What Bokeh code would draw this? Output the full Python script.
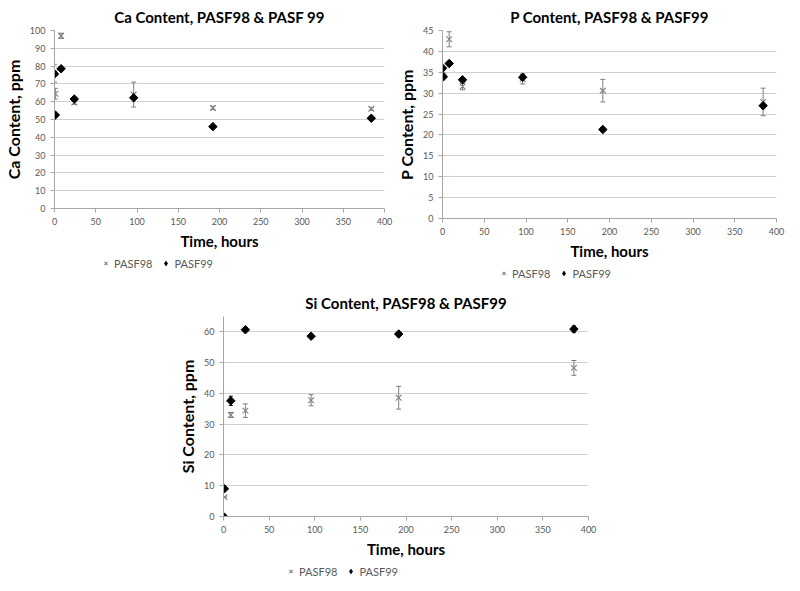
import math
from bokeh.plotting import figure
from bokeh.models import (ColumnDataSource, Whisker, TeeHead, Legend, LegendItem,
                          Range1d, SingleIntervalTicker, Spacer)
from bokeh.layouts import column, row
from bokeh.embed import file_html
from bokeh.resources import INLINE

# ---------------- data ----------------
ca_hours_98 = [0, 1, 8, 24, 96, 192, 384]
ca_98 = [76.0, 64.5, 97.0, 59.5, 64.0, 56.5, 56.0]
ca_98_err = [5.0, 3.0, 1.5, 1.0, 7.0, 1.0, 0.8]
ca_hours_99 = [0, 1, 8, 24, 96, 192, 384]
ca_99 = [75.6, 52.5, 78.5, 61.5, 62.2, 46.0, 50.7]
ca_99_err = [0.5, 0.5, 0.5, 0.8, 0.5, 0.5, 0.5]

p_hours_98 = [1, 8, 24, 96, 192, 384]
p_98 = [35.2, 42.9, 31.6, 33.4, 30.6, 27.9]
p_98_err = [1.0, 1.8, 0.8, 1.2, 2.7, 3.3]
p_hours_99 = [0, 1, 8, 24, 96, 192, 384]
p_99 = [36.0, 33.9, 37.1, 33.2, 33.8, 21.3, 27.0]
p_99_err = [0.4, 0.3, 0.3, 0.4, 0.6, 0.3, 0.6]

si_hours_98 = [0, 1, 8, 24, 96, 192, 384]
si_98 = [0.0, 6.3, 33.0, 34.4, 37.8, 38.6, 48.3]
si_98_err = [0.0, 0.0, 0.8, 2.2, 1.8, 3.7, 2.4]
si_hours_99 = [0, 1, 8, 24, 96, 192, 384]
si_99 = [0.0, 9.0, 37.6, 60.7, 58.6, 59.3, 60.9]
si_99_err = [0.3, 0.3, 1.5, 0.5, 0.5, 0.5, 1.0]

series_names = ["PASF98", "PASF99"]

GRAY = "#7f7f7f"
GRID = "#d0d0d0"
AX = "#a6a6a6"
TXT = "#595959"
FONT = "Lato"
DIAMOND_ANGLE = math.pi / 4
NAN = float("nan")


def make_chart(title, ylabel, ymax, ystep, h98, v98, e98, h99, v99, e99,
               fw, fh, b_left, b_right, b_top, b_bottom):
    p = figure(frame_width=fw, frame_height=fh, output_backend="svg",
               toolbar_location=None, x_range=Range1d(0, 400),
               y_range=Range1d(0, ymax),
               min_border_left=b_left, min_border_right=b_right,
               min_border_top=b_top, min_border_bottom=b_bottom)
    p.title.text = title
    p.title.align = "center"
    p.title.text_font = FONT
    p.title.text_font_style = "bold"
    p.title.text_font_size = "15px"
    p.title.text_color = "#000000"
    p.outline_line_color = None
    p.xgrid.grid_line_color = None
    p.ygrid.grid_line_color = GRID
    p.ygrid.grid_line_width = 1

    p.xaxis.ticker = SingleIntervalTicker(interval=50)
    p.yaxis.ticker = SingleIntervalTicker(interval=ystep)
    for ax in (p.xaxis[0], p.yaxis[0]):
        ax.axis_line_color = AX
        ax.major_tick_line_color = AX
        ax.major_tick_in = 0
        ax.major_tick_out = 4
        ax.minor_tick_line_color = None
        ax.major_label_text_font = FONT
        ax.major_label_text_font_size = "9px"
        ax.major_label_text_color = TXT
        ax.axis_label_text_font = FONT
        ax.axis_label_text_font_style = "bold"
        ax.axis_label_text_color = "#000000"
    p.xaxis.axis_label = "Time, hours"
    p.xaxis.axis_label_text_font_size = "15px"
    p.xaxis.axis_label_standoff = 4
    p.yaxis.axis_label = ylabel
    p.yaxis.axis_label_text_font_size = "16px"
    p.yaxis.axis_label_standoff = 4

    s98 = ColumnDataSource(dict(x=h98, y=v98,
                                lo=[a - b for a, b in zip(v98, e98)],
                                hi=[a + b for a, b in zip(v98, e98)]))
    s99 = ColumnDataSource(dict(x=h99, y=v99,
                                lo=[a - b for a, b in zip(v99, e99)],
                                hi=[a + b for a, b in zip(v99, e99)]))

    w98 = Whisker(base="x", upper="hi", lower="lo", source=s98,
                  line_color=GRAY, line_width=1,
                  upper_head=TeeHead(size=5, line_color=GRAY, line_width=1),
                  lower_head=TeeHead(size=5, line_color=GRAY, line_width=1))
    w99 = Whisker(base="x", upper="hi", lower="lo", source=s99,
                  line_color="#000000", line_width=1,
                  upper_head=TeeHead(size=4, line_color="#000000", line_width=1),
                  lower_head=TeeHead(size=4, line_color="#000000", line_width=1))
    p.add_layout(w98)
    p.add_layout(w99)

    p.scatter("x", "y", source=s98, marker="x", size=8,
              line_color=GRAY, line_width=1.1)
    p.scatter("x", "y", source=s99, marker="square", size=6,
              angle=DIAMOND_ANGLE, fill_color="#000000", line_color="#000000")
    return p


def make_legend(fw, offset):
    lf = figure(frame_width=fw, frame_height=20, output_backend="svg",
                toolbar_location=None, x_range=Range1d(0, 1),
                y_range=Range1d(0, 1), min_border=0)
    lf.axis.visible = False
    lf.grid.visible = False
    lf.outline_line_color = None
    g98 = lf.scatter(x=[NAN], y=[NAN], marker="x", size=10, line_color=GRAY,
                     line_width=1.1)
    g99 = lf.scatter(x=[NAN], y=[NAN], marker="diamond", size=9,
                     fill_color="#000000", line_color="#000000")
    leg = Legend(items=[LegendItem(label=series_names[0], renderers=[g98]),
                        LegendItem(label=series_names[1], renderers=[g99])],
                 orientation="horizontal", location=(offset, 2),
                 border_line_color=None, background_fill_alpha=0,
                 label_text_font=FONT, label_text_font_size="11px",
                 label_text_color=TXT, glyph_width=11, glyph_height=14,
                 spacing=8, padding=0, margin=0, label_standoff=3,
                 label_height=14)
    lf.add_layout(leg, "center")
    return lf


p1 = make_chart("Ca Content, PASF98 & PASF 99", "Ca Content, ppm", 100, 10,
                ca_hours_98, ca_98, ca_98_err, ca_hours_99, ca_99, ca_99_err,
                330, 178, 46, 10, 20, 10)
p2 = make_chart("P Content, PASF98 & PASF99", "P Content, ppm", 45, 5,
                p_hours_98, p_98, p_98_err, p_hours_99, p_99, p_99_err,
                334, 188, 46, 14, 20, 10)
p3 = make_chart("Si Content, PASF98 & PASF99", "Si Content, ppm", 65, 10,
                si_hours_98, si_98, si_98_err, si_hours_99, si_99, si_99_err,
                365, 200, 50, 10, 34, 10)

leg1 = make_legend(330, 100)
leg2 = make_legend(334, 104)
leg3 = make_legend(365, 112)

layout = column(row(column(p1, leg1), column(p2, leg2)),
                row(Spacer(width=173, height=10), column(p3, leg3)))

open("out.html", "w").write(file_html(layout, INLINE))
